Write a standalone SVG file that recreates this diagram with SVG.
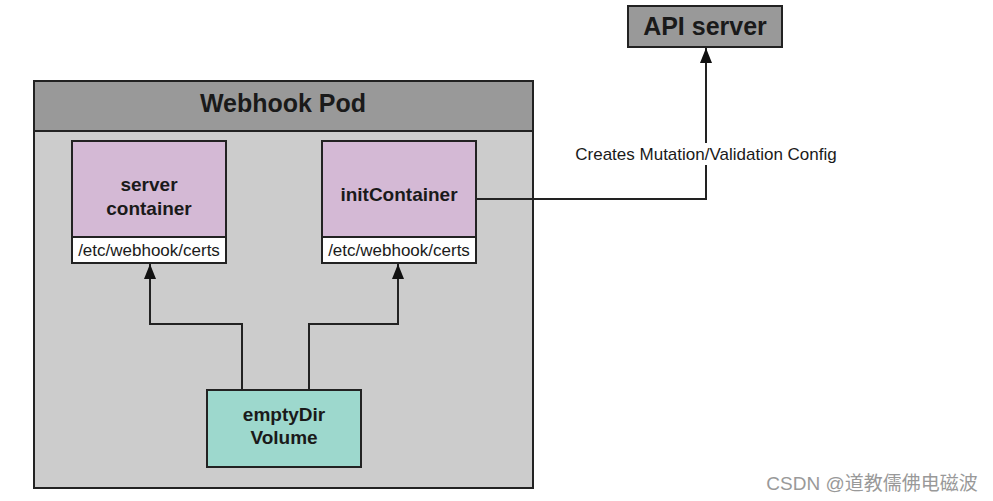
<svg xmlns="http://www.w3.org/2000/svg" width="993" height="501" viewBox="0 0 993 501">
<style>
text{font-family:"Liberation Sans",Arial,sans-serif;fill:#1a1a1a}
.b{font-weight:bold}
.box{stroke:#222;stroke-width:2}
.ln{fill:none;stroke:#222;stroke-width:2}
</style>
<defs>
<marker id="ah" markerWidth="15" markerHeight="12" refX="15" refY="6" orient="auto" markerUnits="userSpaceOnUse" viewBox="0 0 15 12">
<path d="M0,0 L15,6 L0,12 Z" fill="#111"/>
</marker>
</defs>
<rect width="993" height="501" fill="#fff"/>
<g id="pod">
<rect class="box" x="34" y="81" width="499" height="407" fill="#cccccc"/>
<rect class="box" x="34" y="81" width="499" height="50" fill="#999999"/>
<text class="b" x="283" y="112" font-size="25" text-anchor="middle">Webhook Pod</text>
</g>
<g id="server-container">
<rect class="box" x="72" y="141" width="154" height="96" fill="#d4b9d5"/>
<rect class="box" x="72" y="237" width="154" height="26" fill="#fff"/>
<text class="b" x="149" y="191" font-size="19" text-anchor="middle">server</text>
<text class="b" x="149" y="215" font-size="19" text-anchor="middle">container</text>
<text x="149" y="256" font-size="17" text-anchor="middle">/etc/webhook/certs</text>
</g>
<g id="init-container">
<rect class="box" x="322" y="141" width="154" height="96" fill="#d4b9d5"/>
<rect class="box" x="322" y="237" width="154" height="26" fill="#fff"/>
<text class="b" x="399" y="201" font-size="19" text-anchor="middle">initContainer</text>
<text x="399" y="256" font-size="17" text-anchor="middle">/etc/webhook/certs</text>
</g>
<g id="emptydir">
<rect class="box" x="207" y="390" width="154" height="77" fill="#9dd8cd"/>
<text class="b" x="284" y="421" font-size="19" text-anchor="middle">emptyDir</text>
<text class="b" x="284" y="444" font-size="19" text-anchor="middle">Volume</text>
</g>
<g id="api-server">
<rect class="box" x="628" y="6" width="154" height="41" fill="#999999"/>
<text class="b" x="705" y="35" font-size="25" text-anchor="middle">API server</text>
</g>
<g id="connectors">
<path class="ln" d="M242,390 V324 H150 V264" marker-end="url(#ah)"/>
<path class="ln" d="M309,390 V324 H398 V264" marker-end="url(#ah)"/>
<path class="ln" d="M476,199 H706 V48" marker-end="url(#ah)"/>
<rect x="568" y="143" width="276" height="22" fill="#fff"/>
<text x="706" y="160" font-size="17" text-anchor="middle">Creates Mutation/Validation Config</text>
</g>
<text x="872" y="490" font-size="19" text-anchor="middle" style="fill:#999;font-family:'Liberation Sans','Noto Sans CJK SC',sans-serif">CSDN @道教儒佛电磁波</text>
</svg>
